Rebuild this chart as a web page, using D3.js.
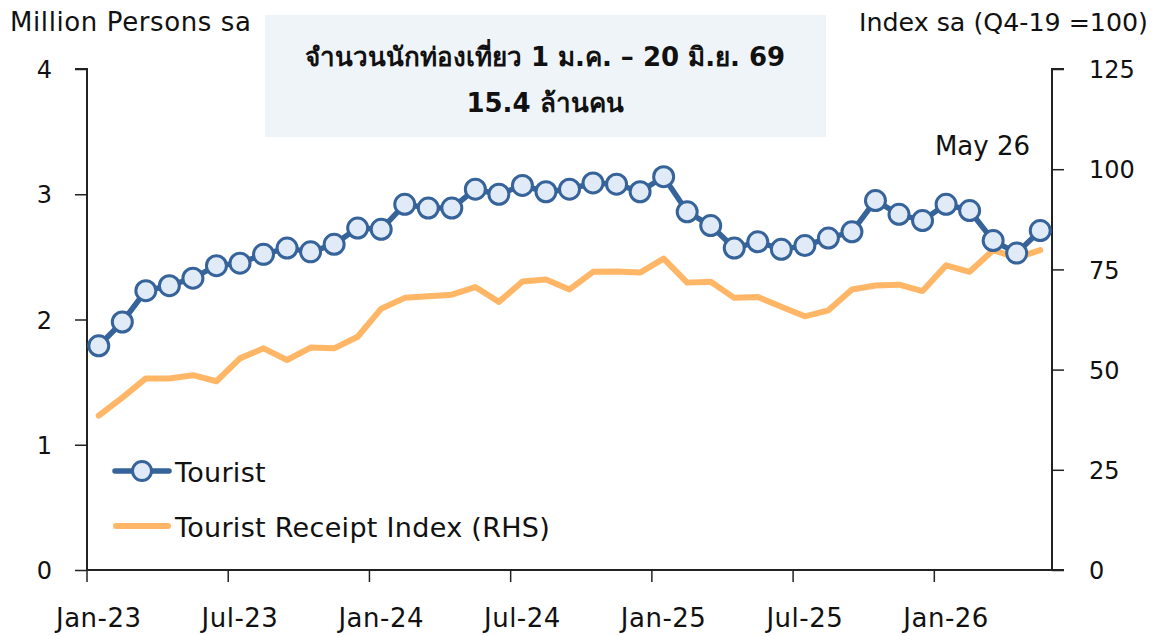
<!DOCTYPE html>
<html>
<head>
<meta charset="utf-8">
<script src="https://cdn.jsdelivr.net/npm/d3@7"></script>
<style>
  body { margin: 0; background: #fff; }
  svg text { font-family: "DejaVu Sans", "Noto Sans", sans-serif; fill: #111; }
</style>
</head>
<body>
<svg id="chart" width="1158" height="636"></svg>
<script>
// months Jan-23 .. May-26
const months = d3.timeMonths(new Date(2023, 0, 1), new Date(2026, 5, 1));

// tourist arrivals, million persons sa
const tourist = [1.79, 1.98, 2.23, 2.27, 2.33, 2.43, 2.45, 2.52, 2.57, 2.54, 2.60, 2.73,
                 2.72, 2.92, 2.89, 2.89, 3.04, 3.00, 3.07, 3.02, 3.04, 3.09, 3.08, 3.02,
                 3.14, 2.86, 2.75, 2.57, 2.62, 2.56, 2.59, 2.65, 2.70, 2.95, 2.84, 2.79,
                 2.92, 2.87, 2.63, 2.53, 2.71];

// tourist receipt index (RHS), Q4-19 = 100
const receipts = [38.5, 43.0, 47.8, 47.8, 48.6, 47.1, 52.8, 55.3, 52.4, 55.5, 55.3, 58.2,
                  65.2, 67.9, 68.3, 68.7, 70.6, 66.9, 72.0, 72.5, 70.0, 74.4, 74.5, 74.2,
                  77.7, 71.7, 71.9, 67.9, 68.1, 65.7, 63.3, 64.8, 70.0, 71.0, 71.2, 69.6,
                  76.0, 74.4, 79.8, 77.9, 79.8];

const leftTicks = [0, 1, 2, 3, 4];
const rightTicks = [0, 25, 50, 75, 100, 125];
const titleLines = ["จำนวนนักท่องเที่ยว 1 ม.ค. – 20 มิ.ย. 69", "15.4 ล้านคน"];

const blue = "#35639a";
const orange = "#ffb767";

const svg = d3.select("#chart");
const plot = { left: 87, right: 1052, top: 69, bottom: 570 };

const x = d3.scaleBand()
    .domain(months)
    .range([plot.left, plot.right]);

const yL = d3.scaleLinear().domain([0, 4]).range([plot.bottom, plot.top]);
const yR = d3.scaleLinear().domain([0, 125]).range([plot.bottom, plot.top]);
const cx = d => x(d) + x.bandwidth() / 2;

// title box
svg.append("rect")
    .attr("x", 265).attr("y", 15)
    .attr("width", 561).attr("height", 122)
    .attr("fill", "#eff4f9");
svg.selectAll(".title")
    .data(titleLines)
    .enter().append("text")
    .attr("x", 545)
    .attr("y", (d, i) => 66 + i * 46)
    .attr("text-anchor", "middle")
    .style("font-size", "26px")
    .style("font-weight", "600")
    .text(d => d);

// axis titles
svg.append("text").attr("x", 10).attr("y", 31)
    .style("font-size", "26px").style("letter-spacing", "0.6px")
    .text("Million Persons sa");
svg.append("text").attr("x", 1148).attr("y", 31)
    .attr("text-anchor", "end")
    .style("font-size", "25.3px")
    .text("Index sa (Q4-19 =100)");

// left axis
const gL = svg.append("g")
    .attr("transform", "translate(" + plot.left + ",0)")
    .call(d3.axisLeft(yL).tickValues(leftTicks).tickSize(12).tickPadding(23).tickFormat(d3.format("d")));

// right axis
const gR = svg.append("g")
    .attr("transform", "translate(" + plot.right + ",0)")
    .call(d3.axisRight(yR).tickValues(rightTicks).tickSize(12).tickPadding(25).tickFormat(d3.format("d")));

// x axis: ticks at band edges every 6 months, labels at band centres
const xTickMonths = months.filter(d => d.getMonth() % 6 === 0);
const gX = svg.append("g");
gX.append("line")
    .attr("x1", plot.left).attr("x2", plot.right + 12)
    .attr("y1", plot.bottom).attr("y2", plot.bottom)
    .attr("stroke", "#222").attr("stroke-width", 2);
gX.selectAll(".xt")
    .data(xTickMonths)
    .enter().append("line")
    .attr("x1", d => x(d)).attr("x2", d => x(d))
    .attr("y1", plot.bottom).attr("y2", plot.bottom + 12)
    .attr("stroke", "#222").attr("stroke-width", 1.5);
gX.selectAll(".xl")
    .data(xTickMonths)
    .enter().append("text")
    .attr("x", d => cx(d))
    .attr("y", 627)
    .attr("text-anchor", "middle")
    .style("font-size", "26px")
    .style("letter-spacing", "0.5px")
    .text(d3.timeFormat("%b-%y"));

[gL, gR].forEach(g => {
    g.select(".domain").attr("stroke", "#222").attr("stroke-width", 2);
    g.selectAll(".tick line").attr("stroke", "#222").attr("stroke-width", 1.5);
    g.selectAll(".tick text").style("font-size", "24px").attr("dy", "0.36em");
});
gL.select(".domain").attr("d", "M-12," + plot.top + "H0V" + plot.bottom);
gR.select(".domain").attr("d", "M12," + plot.top + "H0V" + plot.bottom);

// receipt line (RHS)
svg.append("path")
    .datum(receipts)
    .attr("fill", "none")
    .attr("stroke", orange)
    .attr("stroke-width", 6)
    .attr("stroke-linejoin", "round")
    .attr("stroke-linecap", "round")
    .attr("d", d3.line().x((d, i) => cx(months[i])).y(d => yR(d)));

// tourist line
svg.append("path")
    .datum(tourist)
    .attr("fill", "none")
    .attr("stroke", blue)
    .attr("stroke-width", 5.5)
    .attr("stroke-linejoin", "round")
    .attr("d", d3.line().x((d, i) => cx(months[i])).y(d => yL(d)));

svg.selectAll(".pt")
    .data(tourist)
    .enter().append("circle")
    .attr("cx", (d, i) => cx(months[i]))
    .attr("cy", d => yL(d))
    .attr("r", 10)
    .attr("fill", "#e1eaf7")
    .attr("stroke", blue)
    .attr("stroke-width", 3);

// annotation
svg.append("text").attr("x", 1030).attr("y", 155)
    .attr("text-anchor", "end")
    .style("font-size", "26px").text("May 26");

// legend
const legend = svg.append("g");
legend.append("line")
    .attr("x1", 115).attr("x2", 169).attr("y1", 471).attr("y2", 471)
    .attr("stroke", blue).attr("stroke-width", 5.5).attr("stroke-linecap", "round");
legend.append("circle")
    .attr("cx", 142).attr("cy", 471).attr("r", 9.5)
    .attr("fill", "#e1eaf7").attr("stroke", blue).attr("stroke-width", 3);
legend.append("text").attr("x", 175).attr("y", 482)
    .style("font-size", "27px").style("letter-spacing", "0.3px").text("Tourist");
legend.append("line")
    .attr("x1", 116).attr("x2", 168).attr("y1", 526).attr("y2", 526)
    .attr("stroke", orange).attr("stroke-width", 6).attr("stroke-linecap", "round");
legend.append("text").attr("x", 175).attr("y", 537)
    .style("font-size", "27px").style("letter-spacing", "0.3px").text("Tourist Receipt Index (RHS)");
</script>
</body>
</html>
